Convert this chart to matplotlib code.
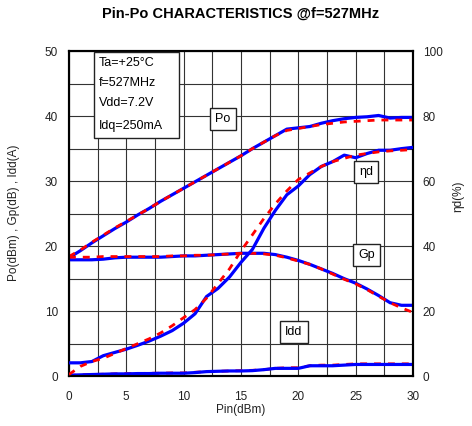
import matplotlib
matplotlib.use("Agg")
import matplotlib.pyplot as plt
from matplotlib.patches import Rectangle

plt.rcParams["font.family"] = ["Liberation Sans", "DejaVu Sans"]

# Pin (dBm)
PIN = [0, 1, 2, 3, 4, 5, 6, 7, 8, 9, 10, 11, 12, 13, 14, 15,
       16, 17, 18, 19, 20, 21, 22, 23, 24, 25, 26, 27, 28, 29, 30]

# measured (blue) / simulated (red) curves, left axis
PO_MEAS = [18.2, 19.3, 20.5, 21.6, 22.7, 23.7, 24.8, 25.8, 26.9, 27.9, 28.9,
           29.9, 30.9, 31.9, 32.9, 33.9, 35.0, 36.0, 37.0, 38.0, 38.2, 38.4,
           38.9, 39.3, 39.6, 39.8, 39.9, 40.1, 39.7, 39.8, 39.8]
PO_SIM = [18.4, 19.4, 20.6, 21.7, 22.8, 23.8, 24.8, 25.8, 26.9, 27.9, 28.9,
          29.9, 30.9, 31.9, 32.9, 33.9, 35.0, 36.0, 37.0, 37.8, 38.1, 38.4,
          38.7, 38.9, 39.1, 39.2, 39.3, 39.4, 39.4, 39.4, 39.4]
GP_MEAS = [17.9, 17.9, 17.9, 18.0, 18.2, 18.3, 18.3, 18.3, 18.3, 18.4, 18.5,
           18.5, 18.6, 18.7, 18.8, 18.9, 18.9, 18.9, 18.7, 18.3, 17.8, 17.2,
           16.5, 15.8, 15.0, 14.3, 13.4, 12.4, 11.3, 10.9, 10.9]
GP_SIM = [18.3, 18.3, 18.3, 18.4, 18.4, 18.4, 18.4, 18.4, 18.4, 18.5, 18.5,
          18.6, 18.6, 18.7, 18.8, 18.9, 18.9, 18.8, 18.6, 18.2, 17.7, 17.2,
          16.5, 15.7, 14.9, 14.2, 13.3, 12.3, 11.3, 10.5, 9.8]
IDD_MEAS = [0.15, 0.2, 0.25, 0.3, 0.35, 0.35, 0.4, 0.4, 0.45, 0.45, 0.45,
            0.55, 0.7, 0.75, 0.8, 0.8, 0.85, 1.0, 1.2, 1.2, 1.2, 1.6,
            1.6, 1.6, 1.7, 1.8, 1.8, 1.8, 1.8, 1.8, 1.8]
IDD_SIM = [0.1, 0.2, 0.25, 0.3, 0.35, 0.4, 0.4, 0.45, 0.45, 0.5, 0.5,
           0.6, 0.7, 0.75, 0.8, 0.85, 0.9, 1.0, 1.2, 1.3, 1.3, 1.6,
           1.7, 1.7, 1.8, 1.9, 1.9, 1.9, 1.9, 1.9, 1.9]

# drain efficiency (%), right axis
ETA_MEAS = [4.1, 4.1, 4.5, 6.3, 7.3, 8.3, 9.5, 10.8, 12.3, 14.0, 16.3,
            19.2, 24.5, 27.0, 30.5, 35.0, 39.0, 45.5, 51.0, 55.8, 58.5,
            62.0, 64.5, 66.0, 68.0, 67.2, 68.5, 69.5, 69.5, 70.0, 70.4]
ETA_SIM = [0.5, 3.0, 4.5, 5.5, 7.0, 8.5, 10.0, 11.5, 13.3, 15.5, 18.0,
           20.5, 24.0, 28.5, 33.0, 38.5, 43.5, 48.5, 53.0, 57.0, 60.5,
           62.5, 64.5, 66.0, 67.0, 68.0, 68.5, 69.0, 69.3, 69.5, 69.7]

INFO = ["Ta=+25°C", "f=527MHz", "Vdd=7.2V", "Idq=250mA"]

BLUE = "#0000ff"
RED = "#ff0000"

fig = plt.figure(figsize=(4.72, 4.26), dpi=100)
ax = fig.add_axes([0.146, 0.117, 0.729, 0.763])
ax2 = ax.twinx()

ax.set_xlim(0, 30)
ax.set_ylim(0, 50)
ax2.set_ylim(0, 100)
ax.set_xticks(range(0, 31, 5))
ax.set_yticks(range(0, 51, 10))
ax2.set_yticks(range(0, 101, 20))
ax.set_xticks([x * 2.5 for x in range(13)], minor=True)
ax.set_yticks(range(0, 51, 5), minor=True)
ax.grid(which="both", color="#333333", lw=0.8)
ax.set_axisbelow(True)

blue_kw = dict(color=BLUE, lw=2.3, solid_capstyle="round")
red_kw = dict(color=RED, lw=2.0, dashes=(2.5, 2.5))

ax.plot(PIN, IDD_SIM, zorder=2, **red_kw)
ax.plot(PIN, IDD_MEAS, zorder=3, **blue_kw)
ax.plot(PIN, PO_MEAS, zorder=3, **blue_kw)
ax.plot(PIN, PO_SIM, zorder=4, **red_kw)
ax.plot(PIN, GP_MEAS, zorder=3, **blue_kw)
ax.plot(PIN, GP_SIM, zorder=4, **red_kw)
ax2.plot(PIN, ETA_MEAS, zorder=3, **blue_kw)
ax2.plot(PIN, ETA_SIM, zorder=4, **red_kw)

for a in (ax, ax2):
    for s in a.spines.values():
        s.set_linewidth(1.5)
        s.set_color("black")
ax.tick_params(which="both", length=0, labelsize=8.5, colors="#222222")
ax.tick_params(axis="x", pad=11)
ax.tick_params(axis="y", pad=8)
ax2.tick_params(length=0, labelsize=8.5, colors="#222222", pad=7)

# conditions box
ax2.add_patch(Rectangle((0.073, 0.734), 0.248, 0.264, transform=ax.transAxes,
                        fill=True, facecolor="white", edgecolor="#222222",
                        lw=1.0, zorder=5))
for yy, line in zip([0.962, 0.902, 0.840, 0.770], INFO):
    ax2.text(0.088, yy, line, transform=ax.transAxes, fontsize=9,
             va="center", ha="left", zorder=6)

box = dict(boxstyle="square,pad=0.4", fc="white", ec="#222222", lw=1.0)
for tx, ty, lbl in [(0.448, 0.791, "Po"), (0.863, 0.628, "ηd"),
                    (0.865, 0.372, "Gp"), (0.654, 0.135, "Idd")]:
    ax2.text(tx, ty, lbl, transform=ax.transAxes, fontsize=9, ha="center",
             va="center", bbox=box, zorder=6)

fig.text(241 / 472, 1 - 14 / 426, "Pin-Po CHARACTERISTICS @f=527MHz",
         ha="center", va="center", fontsize=10.5, fontweight="bold")
fig.text(241 / 472, 1 - 410 / 426, "Pin(dBm)", ha="center", va="center",
         fontsize=8.5, color="#222222")
fig.text(14 / 472, 1 - 213 / 426, "Po(dBm) , Gp(dB) , Idd(A)", rotation=90,
         ha="center", va="center", fontsize=8.5, color="#222222")
fig.text(458 / 472, 1 - 196 / 426, "ηd(%)", rotation=90,
         ha="center", va="center", fontsize=8.5, color="#222222")

fig.savefig("out.png", dpi=100)
